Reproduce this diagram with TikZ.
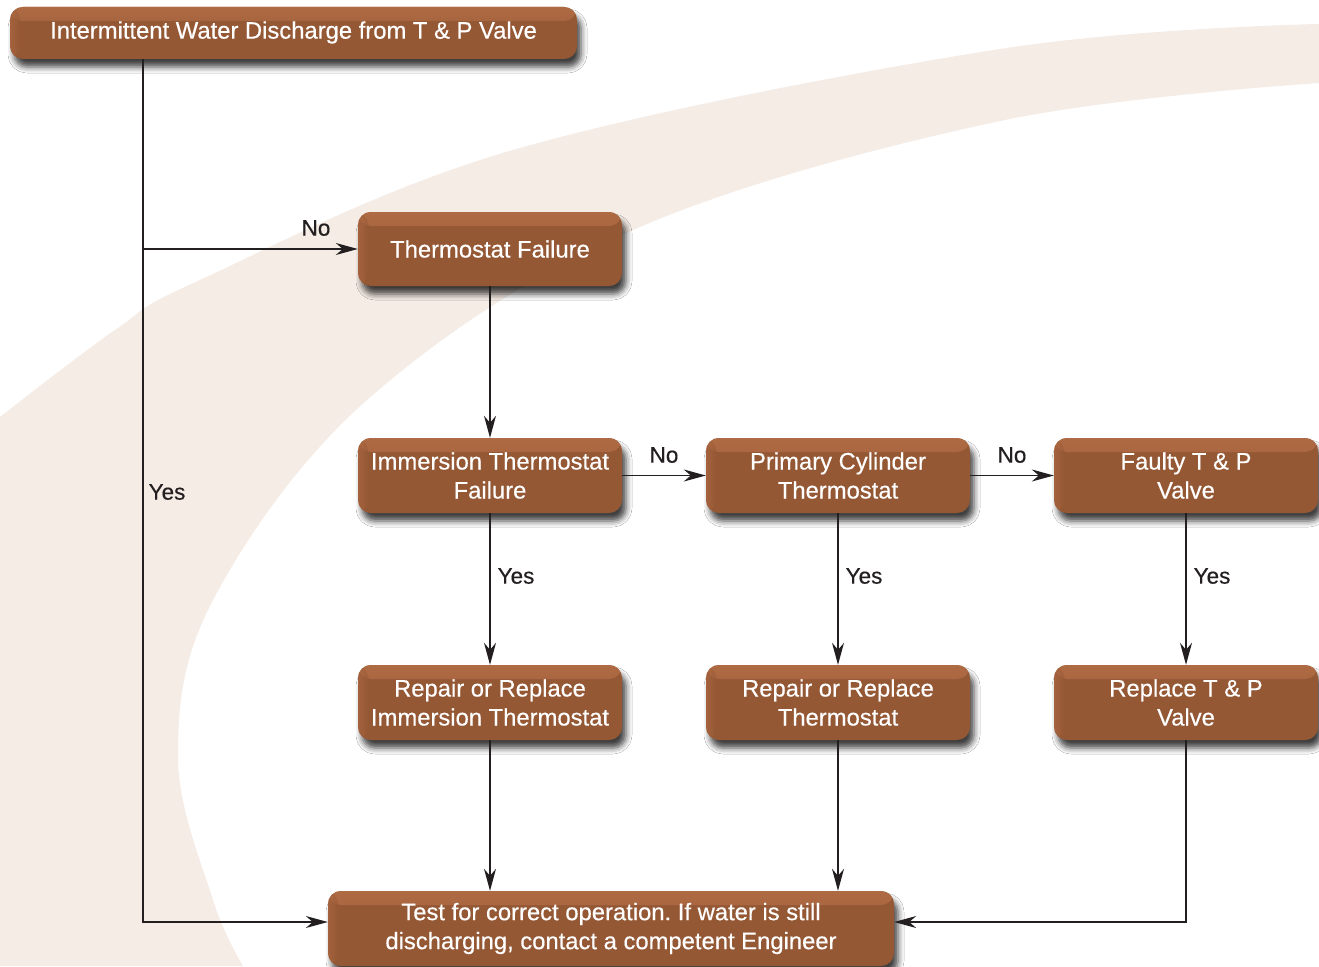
\documentclass[tikz,border=0pt]{standalone}
\usepackage{fontspec}
\setmainfont{Liberation Sans}
\newfontfamily\medfont{Liberation Sans}[FakeBold=0.4]
\usetikzlibrary{arrows.meta,shadows.blur,calc}
\definecolor{band}{HTML}{F5ECE5}
\definecolor{boxmain}{HTML}{955835}
\definecolor{boxtop}{HTML}{AE6A43}
\definecolor{ink}{HTML}{231F20}
\frenchspacing
\begin{document}
\begin{tikzpicture}[x=1pt,y=-1pt,
  stepbox/.style={rounded corners=13pt, fill=boxmain, text=white, align=center,
    font=\medfont\fontsize{23.8}{29}\selectfont, inner sep=0pt,
    blur shadow={shadow xshift=4pt, shadow yshift=-8pt, shadow blur radius=6pt, shadow opacity=75},
    path picture={
      \shade[top color=boxtop, bottom color=boxmain]
        (path picture bounding box.north west) rectangle ([yshift=-14pt]path picture bounding box.north east);
      \shade[left color=boxtop, right color=boxmain, opacity=0.6]
        (path picture bounding box.north west) rectangle ([xshift=10pt]path picture bounding box.south west);
    }},
  wide/.style={minimum width=264pt, minimum height=75pt},
  lbl/.style={text=ink, font=\medfont\fontsize{22.5}{27}\selectfont, inner sep=0pt},
  conn/.style={draw=ink, line width=1.3pt, -{Stealth[length=22pt,width=12pt,inset=7pt]}}]
\useasboundingbox (0,0) rectangle (1319,966);
\fill[white] (0,0) rectangle (1319,966);
% background band
\fill[band] plot[smooth, tension=0.6] coordinates {(0,417) (115,330) (200,280) (513,150) (1000,49) (1319,24)}
  -- (1319,83)
  -- plot[smooth, tension=0.6] coordinates {(1319,83) (1000,121) (633,230) (367,400) (213,600) (178,757) (213,900) (243,966)}
  -- (0,966) -- cycle;
% nodes
\node[stepbox, minimum width=567pt, minimum height=52pt] (top) at (293.5,33) {Intermittent Water Discharge from T \& P Valve\rule[-6pt]{0pt}{0pt}};
\node[stepbox, minimum width=264pt, minimum height=74pt] (tf) at (490,249) {Thermostat Failure};
\node[stepbox, wide] (itf) at (490,475.5) {Immersion Thermostat\\Failure};
\node[stepbox, wide] (pct) at (838,475.5) {Primary Cylinder\\Thermostat};
\node[stepbox, wide] (ftp) at (1186,475.5) {Faulty T \& P\\Valve};
\node[stepbox, wide] (rit) at (490,702.5) {Repair or Replace\\Immersion Thermostat};
\node[stepbox, wide] (rt) at (838,702.5) {Repair or Replace\\Thermostat};
\node[stepbox, wide] (rtp) at (1186,702.5) {Replace T \& P\\Valve};
\node[stepbox, minimum width=566pt, minimum height=75pt] (test) at (611,928.5) {Test for correct operation. If water is still\\discharging, contact a competent Engineer};
% connectors
\coordinate (jx) at (143,0);
\draw[conn] (top.south -| jx) |- ([yshift=6.5pt]test.west);
\draw[conn] (jx |- tf.west) -- (tf.west);
\draw[conn] (tf) -- (itf);
\draw[conn] (itf) -- (pct);
\draw[conn] (pct) -- (ftp);
\draw[conn] (itf) -- (rit);
\draw[conn] (pct) -- (rt);
\draw[conn] (ftp) -- (rtp);
\draw[conn] (rit.south) -- (test.north -| rit.south);
\draw[conn] (rt.south) -- (test.north -| rt.south);
\draw[conn] (rtp.south) |- ([yshift=6.5pt]test.east);
% labels
\node[lbl] (l1) at (316,228) {No};
\node[lbl] (l2) at (167,492) {Yes};
\node[lbl] (l3) at (664,455) {No};
\node[lbl] (l4) at (1012,455) {No};
\node[lbl] (l5) at (516,576) {Yes};
\node[lbl] (l6) at (864,576) {Yes};
\node[lbl] (l7) at (1212,576) {Yes};
\end{tikzpicture}
\end{document}
